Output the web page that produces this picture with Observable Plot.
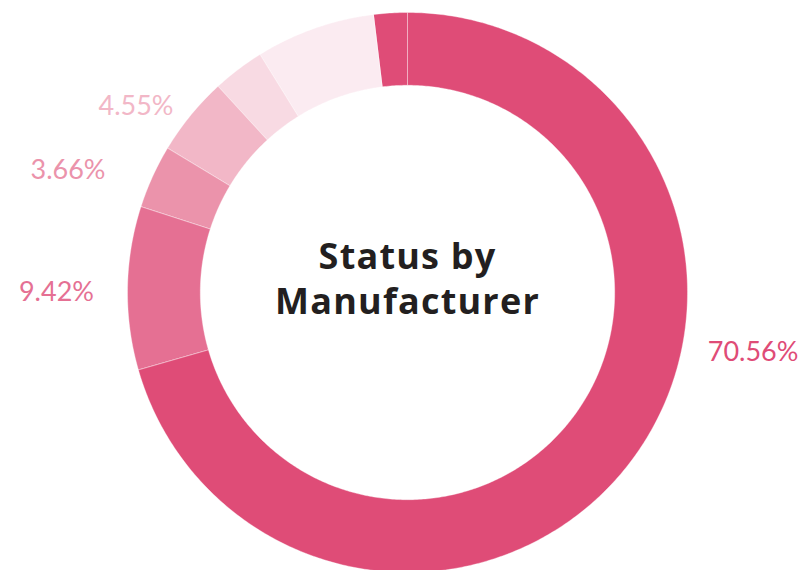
<!DOCTYPE html>
<html>
<head>
<meta charset="utf-8">
<script src="https://cdn.jsdelivr.net/npm/d3@7"></script>
<script src="https://cdn.jsdelivr.net/npm/@observablehq/plot@0.6"></script>
<style>
  html, body { margin: 0; padding: 0; background: #ffffff; }
  #chart svg { display: block; }
</style>
</head>
<body>
<div id="chart"></div>
<script>
// ---- Data ----
const categories = ["Status A", "Status B", "Status C", "Status D", "Status E", "Status F", "Status G"];
const values = [70.56, 9.42, 3.66, 4.55, 3.00, 6.89, 1.92];
const labelTexts = ["70.56%", "9.42%", "3.66%", "4.55%", "", "", ""];
const colors = ["#df4c77", "#e57093", "#eb93ab", "#f2b7c7", "#f8dae3", "#fbebf1", "#df4c77"];
const title = "Status by\nManufacturer";

// ---- Layout (pixels) ----
const W = 799, H = 570;
const CX = 407, CY = 292, R = 280;
const INNER = 0.74;          // inner radius as a fraction of outer radius
const labelRadius = {0: 1.09, 1: 1.12, 2: 1.17, 3: 1.08}; // label radius (fraction of outer radius)
const labelFraction = {0: 0.395, 2: 0.37}; // where along its arc a slice's label sits (default 0.5)

// ---- Build slice polygons from the values ----
const total = d3.sum(values);
let acc = 0;
const slices = values.map((v, i) => {
  const a0 = acc / total * 2 * Math.PI;
  acc += v;
  const a1 = acc / total * 2 * Math.PI;
  return {i, category: categories[i], value: v, a0, a1, label: labelTexts[i], color: colors[i]};
});

const polyPoints = [];
for (const s of slices) {
  const n = Math.max(8, Math.ceil((s.a1 - s.a0) / 0.01));
  for (let k = 0; k <= n; k++) {
    const a = s.a0 + (s.a1 - s.a0) * k / n;
    polyPoints.push({category: s.category, color: s.color, x: Math.sin(a), y: Math.cos(a)});
  }
  for (let k = n; k >= 0; k--) {
    const a = s.a0 + (s.a1 - s.a0) * k / n;
    polyPoints.push({category: s.category, color: s.color, x: INNER * Math.sin(a), y: INNER * Math.cos(a)});
  }
}

const labelData = slices.filter(s => s.label).map(s => {
  const f = labelFraction[s.i] ?? 0.5;
  const r = labelRadius[s.i] ?? 1.12;
  const a = s.a0 + (s.a1 - s.a0) * f;
  return {label: s.label, color: s.color, x: r * Math.sin(a), y: r * Math.cos(a), right: Math.sin(a) >= 0};
});

const chart = Plot.plot({
  width: W,
  height: H,
  marginLeft: 0, marginRight: 0, marginTop: 0, marginBottom: 0,
  x: {domain: [-CX / R, (W - CX) / R], axis: null},
  y: {domain: [-(H - CY) / R, CY / R], axis: null},
  style: {background: "#ffffff", overflow: "visible"},
  marks: [
    Plot.line(polyPoints, {
      x: "x", y: "y", z: "category",
      fill: d => d.color, stroke: "#ffffff", strokeWidth: 0.6, strokeOpacity: 0.6,
      curve: "linear-closed"
    }),
    Plot.text(labelData.filter(d => d.right), {
      x: "x", y: "y", text: "label", fill: d => d.color, dy: 5,
      textAnchor: "start", fontSize: 27, fontFamily: "Lato", fontWeight: 400
    }),
    Plot.text(labelData.filter(d => !d.right), {
      x: "x", y: "y", text: "label", fill: d => d.color, dy: 5,
      textAnchor: "end", fontSize: 27, fontFamily: "Lato", fontWeight: 400
    }),
    Plot.text([title], {
      x: 0, y: 0, dy: -15, text: d => d,
      fontSize: 36, fontFamily: "Open Sans", fontWeight: 700,
      fill: "#231f20", lineHeight: 1.25, textAnchor: "middle"
    })
  ]
});
chart.setAttribute("fill", "currentColor");
const textGroups = chart.querySelectorAll('g[aria-label="text"]');
textGroups[textGroups.length - 1].style.letterSpacing = "1.2px";
document.getElementById("chart").appendChild(chart);
</script>
</body>
</html>
